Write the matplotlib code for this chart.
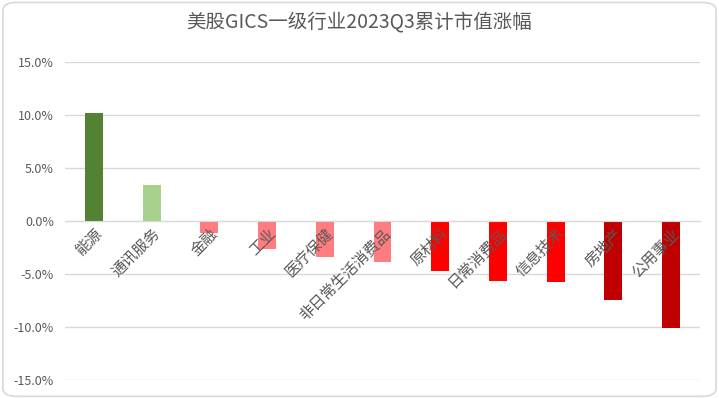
import matplotlib
matplotlib.use("Agg")
import matplotlib.pyplot as plt
from matplotlib.patches import FancyBboxPatch
from matplotlib.ticker import FuncFormatter

plt.rcParams['font.family'] = ['Noto Sans CJK SC', 'DejaVu Sans']

sectors = ["能源", "通讯服务", "金融", "工业", "医疗保健", "非日常生活消费品",
           "原材料", "日常消费品", "信息技术", "房地产", "公用事业"]
changes = [10.2, 3.4, -1.16, -2.67, -3.43, -3.9, -4.69, -5.63, -5.79, -7.48, -10.06]
colors = ["#548235", "#A9D18E", "#FF7C80", "#FF7C80", "#FF7C80", "#FF7C80",
          "#FF0000", "#FF0000", "#FF0000", "#C00000", "#BF0000"]

fig = plt.figure(figsize=(7.19, 3.98), dpi=100)
ax = fig.add_axes([0.0904, 0.0452, 0.8832, 0.799])

# rounded chart border
fig.patches.append(FancyBboxPatch((0.004, 0.004), 0.992, 0.99, boxstyle="round,pad=0,rounding_size=0.02",
                                  transform=fig.transFigure, fill=False, edgecolor="#D9D9D9", linewidth=1.2))

x = list(range(len(sectors)))
ax.bar(x, changes, width=0.31, color=colors, zorder=3)

ax.set_xlim(-0.5, len(sectors) - 0.5)
ax.set_ylim(-15, 15)
ax.set_yticks([-15, -10, -5, 0, 5, 10, 15])
ax.yaxis.set_major_formatter(FuncFormatter(lambda v, p: f"{v:.1f}%"))
ax.grid(axis="y", color="#D9D9D9", linewidth=1, zorder=0)

for s in ["top", "right", "left"]:
    ax.spines[s].set_visible(False)
ax.spines["bottom"].set_position(("data", 0))
ax.spines["bottom"].set_color("#D9D9D9")
ax.spines["bottom"].set_zorder(4)

ax.set_xticks(x)
ax.set_xticklabels(sectors, rotation=45, ha="right", rotation_mode="anchor",
                   fontsize=11, color="#595959")
ax.tick_params(axis="x", length=0, pad=3)
ax.tick_params(axis="y", length=0, labelsize=9, labelcolor="#595959", pad=8)
ax.xaxis.set_zorder(5)  # category labels sit on top of the bars

fig.text(0.5, 0.945, "美股GICS一级行业2023Q3累计市值涨幅", ha="center", va="center",
         fontsize=14, color="#595959")

fig.savefig("out.png", dpi=100)
